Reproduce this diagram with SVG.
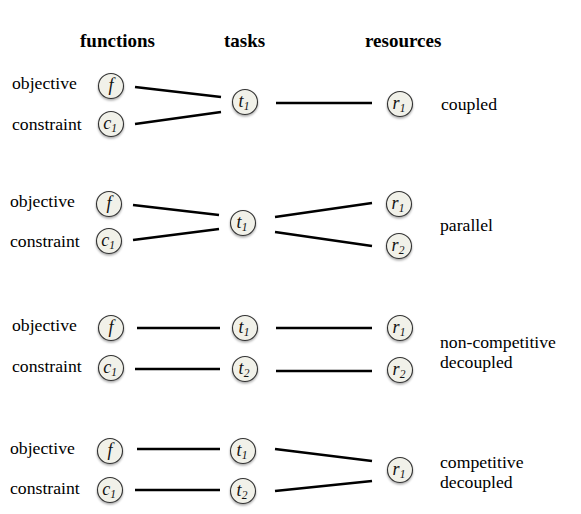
<svg xmlns="http://www.w3.org/2000/svg" width="581" height="514" viewBox="0 0 581 514">
<style>
.hd{font-family:'Liberation Serif','Times New Roman',Times,serif;font-weight:bold;font-size:19px;fill:#000}
.lb{font-family:'Liberation Serif','Times New Roman',Times,serif;font-size:17.7px;fill:#000}
.nd circle{fill:#f1f1e9;stroke:#333;stroke-width:1.1;filter:url(#sh)}
.nd text{font-family:'Liberation Serif','Times New Roman',Times,serif;font-style:italic;font-size:18px;fill:#111;text-anchor:middle}
.sb{font-size:11.5px}
#edges line{stroke:#000;stroke-width:2.6;stroke-linecap:butt}
</style>
<defs>
<filter id="sh" x="-30%" y="-30%" width="160%" height="170%">
<feDropShadow dx="0" dy="1.5" stdDeviation="1.2" flood-color="#000" flood-opacity="0.35"/>
</filter>
</defs>
<rect width="581" height="514" fill="#fff"/>
<g id="headers">
<text class="hd" x="80" y="47">functions</text>
<text class="hd" x="224" y="47">tasks</text>
<text class="hd" x="365" y="47">resources</text>
</g>
<g id="labels">
<text class="lb" x="12" y="89">objective</text>
<text class="lb" x="12" y="130">constraint</text>
<text class="lb" x="441" y="110">coupled</text>
<text class="lb" x="10" y="207">objective</text>
<text class="lb" x="10" y="247">constraint</text>
<text class="lb" x="440" y="231">parallel</text>
<text class="lb" x="12" y="331">objective</text>
<text class="lb" x="12" y="372">constraint</text>
<text class="lb" x="440" y="348">non-competitive</text>
<text class="lb" x="440" y="368">decoupled</text>
<text class="lb" x="10" y="454">objective</text>
<text class="lb" x="10" y="494">constraint</text>
<text class="lb" x="440" y="468">competitive</text>
<text class="lb" x="440" y="488">decoupled</text>
</g>
<g id="edges">
<line x1="135" y1="87" x2="221" y2="97"/>
<line x1="135" y1="124" x2="221" y2="112"/>
<line x1="276" y1="103" x2="372" y2="103"/>
<line x1="133" y1="205" x2="219" y2="215"/>
<line x1="133" y1="240" x2="219" y2="229"/>
<line x1="275" y1="217" x2="372" y2="203"/>
<line x1="275" y1="232" x2="372" y2="246"/>
<line x1="137" y1="328" x2="220" y2="328"/>
<line x1="276" y1="328" x2="372" y2="328"/>
<line x1="135" y1="369" x2="220" y2="369"/>
<line x1="276" y1="371" x2="372" y2="371"/>
<line x1="137" y1="449" x2="220" y2="449"/>
<line x1="135" y1="490" x2="220" y2="490"/>
<line x1="275" y1="449" x2="372" y2="461"/>
<line x1="275" y1="491" x2="372" y2="481"/>
</g>
<g id="n1f" class="nd"><circle cx="111" cy="86" r="12.5"/><text x="111" y="91">f</text></g>
<g id="n1c" class="nd"><circle cx="111" cy="124" r="12.5"/><text x="110" y="129">c<tspan class="sb" dy="3">1</tspan></text></g>
<g id="n1t" class="nd"><circle cx="245" cy="102" r="12.5"/><text x="244" y="107">t<tspan class="sb" dy="3">1</tspan></text></g>
<g id="n1r" class="nd"><circle cx="400" cy="104" r="12.5"/><text x="399" y="109">r<tspan class="sb" dy="3">1</tspan></text></g>
<g id="n2f" class="nd"><circle cx="109" cy="204" r="12.5"/><text x="109" y="209">f</text></g>
<g id="n2c" class="nd"><circle cx="109" cy="241" r="12.5"/><text x="108" y="246">c<tspan class="sb" dy="3">1</tspan></text></g>
<g id="n2t" class="nd"><circle cx="243" cy="223" r="12.5"/><text x="242" y="228">t<tspan class="sb" dy="3">1</tspan></text></g>
<g id="n2r1" class="nd"><circle cx="399" cy="204" r="12.5"/><text x="398" y="209">r<tspan class="sb" dy="3">1</tspan></text></g>
<g id="n2r2" class="nd"><circle cx="399" cy="246" r="12.5"/><text x="398" y="251">r<tspan class="sb" dy="3">2</tspan></text></g>
<g id="n3f" class="nd"><circle cx="111" cy="328" r="12.5"/><text x="111" y="333">f</text></g>
<g id="n3c" class="nd"><circle cx="111" cy="368" r="12.5"/><text x="110" y="373">c<tspan class="sb" dy="3">1</tspan></text></g>
<g id="n3t1" class="nd"><circle cx="245" cy="328" r="12.5"/><text x="244" y="333">t<tspan class="sb" dy="3">1</tspan></text></g>
<g id="n3t2" class="nd"><circle cx="245" cy="369" r="12.5"/><text x="244" y="374">t<tspan class="sb" dy="3">2</tspan></text></g>
<g id="n3r1" class="nd"><circle cx="400" cy="328" r="12.5"/><text x="399" y="333">r<tspan class="sb" dy="3">1</tspan></text></g>
<g id="n3r2" class="nd"><circle cx="400" cy="370" r="12.5"/><text x="399" y="375">r<tspan class="sb" dy="3">2</tspan></text></g>
<g id="n4f" class="nd"><circle cx="110" cy="451" r="12.5"/><text x="110" y="456">f</text></g>
<g id="n4c" class="nd"><circle cx="110" cy="490" r="12.5"/><text x="109" y="495">c<tspan class="sb" dy="3">1</tspan></text></g>
<g id="n4t1" class="nd"><circle cx="243" cy="451" r="12.5"/><text x="242" y="456">t<tspan class="sb" dy="3">1</tspan></text></g>
<g id="n4t2" class="nd"><circle cx="243" cy="491" r="12.5"/><text x="242" y="496">t<tspan class="sb" dy="3">2</tspan></text></g>
<g id="n4r" class="nd"><circle cx="400" cy="470" r="12.5"/><text x="399" y="475">r<tspan class="sb" dy="3">1</tspan></text></g>
</svg>
